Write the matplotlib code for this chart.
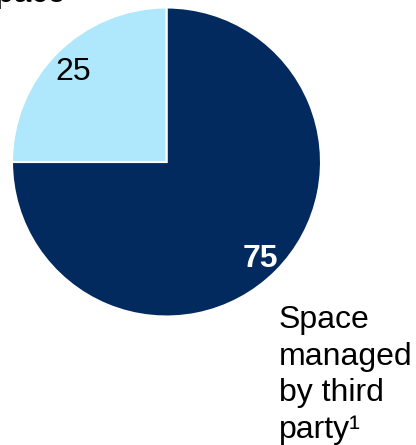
import matplotlib
matplotlib.use("Agg")
import matplotlib.pyplot as plt
import numpy as np

# Data
categories = ["Space managed by third party", "Self-managed space"]
values = [75, 25]
value_labels = ["75", "25"]
colors = ["#022a5e", "#afe7fc"]
label_colors = ["white", "black"]
label_weights = ["bold", "normal"]

W, H, DPI = 416, 445, 100
fig = plt.figure(figsize=(W / DPI, H / DPI), dpi=DPI)
ax = fig.add_axes([0, 0, 1, 1])

cx, cy, R = 166.5, 162.0, 154.5  # pixel centre and radius


def px(x, y):
    return (x - cx) / R, (cy - y) / R


plt.rcParams["font.family"] = ["Liberation Sans", "DejaVu Sans"]
FS = 23

wedges, _ = ax.pie(values, colors=colors, startangle=90, counterclock=False,
                   radius=1.0, center=(0, 0),
                   wedgeprops=dict(edgecolor="white", linewidth=1.5))

for w, txt, c, fw in zip(wedges, value_labels, label_colors, label_weights):
    ang = np.deg2rad((w.theta1 + w.theta2) / 2)
    d = 0.855
    ax.text(d * np.cos(ang), d * np.sin(ang) - 3.5 / R, txt, ha="center", va="center",
            fontsize=FS, color=c, fontweight=fw)

x0, y0 = px(279, 438)
ax.text(x0, y0, "Space\nmanaged\nby third\nparty\u00b9", ha="left", va="baseline",
        fontsize=FS, color="black", linespacing=1.29)

x1, y1 = px(-20, 2)
ax.text(x1, y1, "space", ha="left", va="baseline", fontsize=FS, color="black")

ax.set_xlim(-cx / R, (W - cx) / R)
ax.set_ylim(-(H - cy) / R, cy / R)
ax.set_aspect("auto")
ax.axis("off")

fig.savefig("out.png", dpi=DPI)
